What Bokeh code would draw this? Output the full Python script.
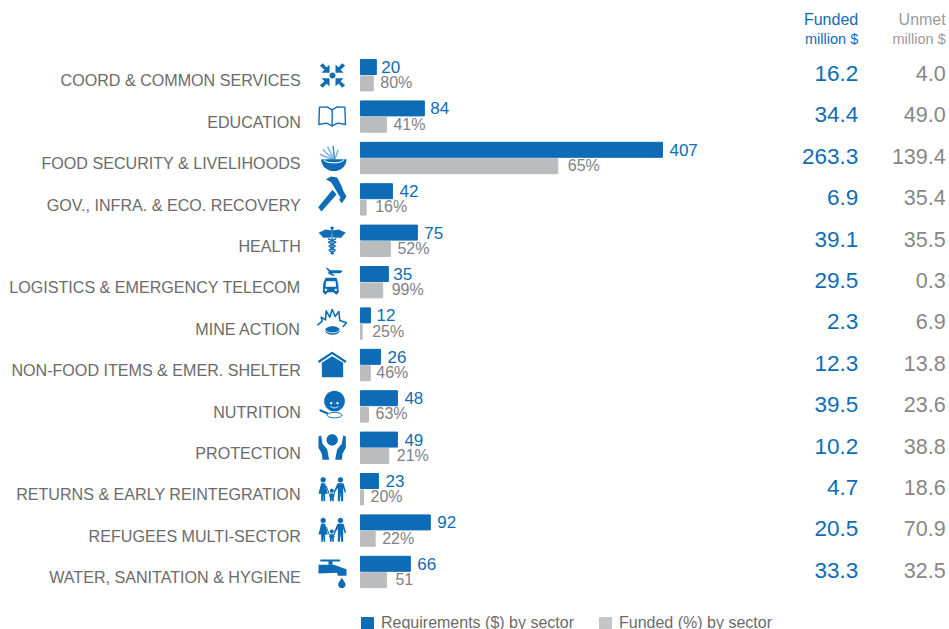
import math
from bokeh.plotting import figure
from bokeh.models import ColumnDataSource, Range1d
from bokeh.core.properties import value
from bokeh.embed import file_html
from bokeh.resources import INLINE

sectors = ["COORD & COMMON SERVICES", "EDUCATION", "FOOD SECURITY & LIVELIHOODS",
           "GOV., INFRA. & ECO. RECOVERY", "HEALTH", "LOGISTICS & EMERGENCY TELECOM",
           "MINE ACTION", "NON-FOOD ITEMS & EMER. SHELTER", "NUTRITION", "PROTECTION",
           "RETURNS & EARLY REINTEGRATION", "REFUGEES MULTI-SECTOR", "WATER, SANITATION & HYGIENE"]
req_labels = ["20", "84", "407", "42", "75", "35", "12", "26", "48", "49", "23", "92", "66"]
pct_labels = ["80%", "41%", "65%", "16%", "52%", "99%", "25%", "46%", "63%", "21%", "20%", "22%", "51"]
req_bars = [21, 84.8, 401, 42.4, 75.5, 37, 13.2, 26.5, 49, 49, 23.8, 92.7, 66.2]
funded_bars = [17, 34.4, 262, 7.5, 39.7, 29.5, 2.2, 13, 10.6, 37.5, 4, 19.5, 34.4]
funded_text = ["16.2", "34.4", "263.3", "6.9", "39.1", "29.5", "2.3", "12.3", "39.5", "10.2", "4.7", "20.5", "33.3"]
unmet_text = ["4.0", "49.0", "139.4", "35.4", "35.5", "0.3", "6.9", "13.8", "23.6", "38.8", "18.6", "70.9", "32.5"]
req_nudge = [5, 6, 7, 7, 7, 5, 6, 7, 7, 7, 7, 7, 7]
pct_nudge = [7, 7, 10, 9, 7, 9, 10, 6, 7, 8, 7, 7, 9]

BLUE = "#0e6cb6"
GREY = "#bbbcbe"
TXT = "#6b6b6b"
FONT = value("Liberation Sans")
W, H = 949, 629
K = 0.753
X0 = 360
ROW = 41.4
Y0 = 74.7

def X(px):
    return (px - X0) / K

def Y(py):
    return (py - Y0) / ROW

p = figure(width=W, height=H, output_backend="svg", toolbar_location=None,
           x_range=Range1d(X(0), X(W)), y_range=Range1d(Y(H), Y(0)),
           x_axis_type=None, y_axis_type=None, min_border=0,
           outline_line_color=None)
p.grid.visible = False

rows = list(range(len(sectors)))
src = ColumnDataSource(dict(
    sector=sectors, row=rows, req=req_bars, funded=funded_bars,
    req_label=req_labels, pct_label=pct_labels,
    funded_text=funded_text, unmet_text=unmet_text,
    req_nudge=req_nudge, pct_nudge=pct_nudge,
    y_req=[r - 8.2 / ROW for r in rows], y_fund=[r + 8.2 / ROW for r in rows],
    y_pct=[r + 7.4 / ROW for r in rows],
    y_cat=[r + 5.2 / ROW for r in rows], y_tab=[r - 1.8 / ROW for r in rows],
    x_cat=[X(300.3)] * 13, x_fund=[X(857.7)] * 13, x_unmet=[X(945.2)] * 13,
))

bar_h = 15 / ROW
p.hbar(y="y_req", left=0, right="req", height=bar_h, color=BLUE, source=src)
p.hbar(y="y_fund", left=0, right="funded", height=bar_h, color=GREY, source=src)

p.text(x="x_cat", y="y_cat", text="sector", source=src, text_font=FONT, text_font_size="16.1px",
       text_color=TXT, text_align="right", text_baseline="middle")
p.text(x="req", y="y_req", text="req_label", x_offset="req_nudge", source=src, text_font=FONT,
       text_font_size="17px", text_color=BLUE, text_align="left", text_baseline="middle")
p.text(x="funded", y="y_pct", text="pct_label", x_offset="pct_nudge", source=src, text_font=FONT,
       text_font_size="16px", text_color="#808285", text_align="left", text_baseline="middle")
p.text(x="x_fund", y="y_tab", text="funded_text", source=src, text_font=FONT, text_font_size="22.5px",
       text_color=BLUE, text_align="right", text_baseline="middle")
p.text(x="x_unmet", y="y_tab", text="unmet_text", source=src, text_font=FONT, text_font_size="21.5px",
       text_color="#878787", text_align="right", text_baseline="middle")

def head(px, py, t, size, color):
    p.text(x=[X(px)], y=[Y(py)], text=[t], text_font=FONT, text_font_size=size, text_color=color,
           text_align="right", text_baseline="middle")

head(857.7, 18.8, "Funded", "16px", BLUE)
head(857.7, 38.5, "million $", "14.5px", BLUE)
head(945.2, 18.8, "Unmet", "16px", "#9a9a9a")
head(945.2, 38.5, "million $", "14.5px", "#9a9a9a")

# legend
for x0, col, label in [(361, BLUE, "Requirements ($) by sector"), (599, "#c4c5c7", "Funded (%) by sector")]:
    p.quad(left=[X(x0)], right=[X(x0 + 12)], top=[Y(617)], bottom=[Y(630)], color=col)
    p.text(x=[X(x0 + 19.5)], y=[Y(621.5)], text=[label], text_font=FONT, text_font_size="16px",
           text_color=TXT, text_align="left", text_baseline="middle")

# ---- icons: outlines given in zoomed-crop units (3 units per pixel)
O1, O2, O3 = (310, 50), (310, 225), (310, 410)

def poly(o, pts, color=BLUE):
    p.patch([X(o[0] + a / 3) for a, b in pts], [Y(o[1] + b / 3) for a, b in pts],
            fill_color=color, line_color=None)

def stroke(o, pts, w=1.4, color=BLUE):
    p.line([X(o[0] + a / 3) for a, b in pts], [Y(o[1] + b / 3) for a, b in pts],
           line_color=color, line_width=w, line_cap="round", line_join="round")

def ell(cx, cy, rx, ry, a0=0, a1=360, n=36):
    return [(cx + rx * math.cos(math.radians(a0 + (a1 - a0) * i / n)),
             cy + ry * math.sin(math.radians(a0 + (a1 - a0) * i / n))) for i in range(n + 1)]

def mirror(pts, cx):
    return [(2 * cx - a, b) for a, b in pts]

# coord
poly(O1, ell(66, 75, 9, 9))
arrow = [(57, 67), (33, 67), (42, 58), (28, 46), (37, 38), (48, 51), (57, 42)]
for fx in (False, True):
    for fy in (False, True):
        poly(O1, [(132 - a if fx else a, 150 - b if fy else b) for a, b in arrow])

# book
left_pg = [(65, 178), (50, 169), (27, 170), (25, 222), (48, 218), (65, 226)]
stroke(O1, left_pg)
stroke(O1, mirror(left_pg, 65))
stroke(O1, [(65, 178), (65, 226)])

# bowl
for a, b in [(68, 288), (38, 298), (52, 290), (30, 312), (82, 300)]:
    stroke(O1, [(72, 330), (a, b)], 1.5, "#7fb2dc" if a != 68 else "#3f8ac6")
poly(O1, ell(70, 326, 38, 36, 0, 180))
stroke(O1, ell(70, 326, 30, 11, 10, 170), 1.1, "#ffffff")

# hammer
poly(O1, [(23, 470), (33, 483), (78, 432), (66, 418)])
poly(O1, [(46, 386), (62, 378), (80, 381), (94, 408), (98, 420), (108, 438), (94, 458),
          (86, 448), (90, 442), (72, 412), (62, 395)])

# caduceus
wing = [(65, 15), (45, 12), (24, 22), (32, 29), (38, 37), (62, 36)]
poly(O2, wing)
poly(O2, mirror(wing, 65))
poly(O2, ell(65, 8, 5, 5))
stroke(O2, [(65, 10), (65, 85)], 1.2)
snake = [(54, 40), (76, 50), (56, 62), (74, 74), (62, 85)]
stroke(O2, snake, 1.4)
stroke(O2, mirror(snake, 65), 1.4)

# plane + truck
poly(O2, [(45, 126), (52, 128), (60, 134), (92, 134), (96, 139), (88, 143), (64, 143),
          (74, 151), (66, 151), (52, 143), (55, 139)])
poly(O2, [(45, 157), (78, 157), (83, 175), (85, 200), (78, 208), (68, 200), (52, 200),
          (44, 208), (37, 200), (38, 175)])
poly(O2, [(47, 167), (75, 167), (77, 184), (45, 184)], "#ffffff")
poly(O2, ell(46, 193, 3.5, 3.5), "#ffffff")
poly(O2, ell(76, 193, 3.5, 3.5), "#ffffff")

# mine
stroke(O2, [(22, 298), (35, 287), (32, 275), (45, 283), (47, 256), (58, 275), (65, 252),
            (74, 273), (85, 258), (88, 285), (108, 292), (98, 303)], 1.6)
poly(O2, ell(66, 315, 22, 13))
stroke(O2, ell(66, 311, 22, 11, 10, 170), 1.0, "#ffffff")

# house
poly(O2, [(34, 412), (65, 392), (98, 412), (98, 455), (34, 455)])
stroke(O2, [(26, 408), (65, 382), (104, 408)], 2.2)

# nutrition
poly(O2, ell(72, 527, 31, 31))
poly(O2, ell(62, 533, 3.5, 3.5), "#ffffff")
poly(O2, ell(81, 533, 3.5, 3.5), "#ffffff")
stroke(O2, ell(72, 540, 12, 7, 20, 160), 0.9, "#ffffff")
stroke(O3, [(30, 0), (50, 8)], 2.2)
stroke(O3, ell(72, 14, 22, 8), 1.0)

# protection
poly(O3, ell(65, 88, 17, 17))
hand = [(24, 78), (32, 75), (36, 100), (50, 116), (56, 148), (36, 148), (34, 130), (24, 112)]
poly(O3, hand)
poly(O3, mirror(hand, 65))

# family (returns and refugees)
def family(dy):
    shift = lambda pts: [(a, b + dy) for a, b in pts]
    poly(O3, ell(38, 208 + dy, 8, 8))
    poly(O3, ell(90, 208 + dy, 8, 8))
    poly(O3, ell(64, 241 + dy, 6, 6))
    poly(O3, shift([(32, 218), (44, 218), (52, 250), (44, 250), (44, 272), (39, 272), (38, 252),
                    (37, 272), (32, 272), (32, 250), (24, 250)]))
    poly(O3, shift([(81, 218), (99, 218), (107, 245), (103, 247), (98, 232), (98, 272),
                    (92, 272), (90, 248), (88, 272), (82, 272), (82, 232), (73, 246), (70, 243)]))
    poly(O3, shift([(58, 249), (70, 249), (73, 258), (70, 258), (70, 272), (65, 272), (64, 260),
                    (63, 272), (58, 272), (58, 258), (55, 258)]))
    stroke(O3, shift([(48, 228), (56, 250)]), 1.0)
    stroke(O3, shift([(72, 246), (72, 250)]), 1.0)

family(0)
family(122)

# tap
stroke(O3, [(32, 450), (86, 450)], 2.0)
poly(O3, [(54, 450), (66, 450), (66, 463), (54, 463)])
poly(O3, [(24, 463), (70, 463), (85, 468), (108, 476), (108, 496), (82, 496), (80, 487), (24, 489)])
poly(O3, [(94, 502)] + ell(94, 522, 11, 11, -30, 210))

open("out.html", "w").write(file_html(p, INLINE))
